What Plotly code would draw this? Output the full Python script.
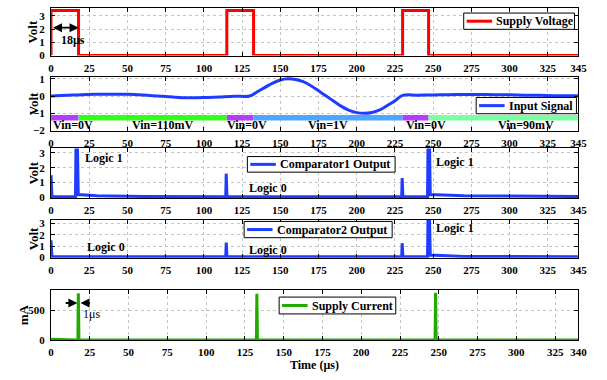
import plotly.graph_objects as go

# ---------------- data ----------------
supply_t = [0, 0, 18, 18, 115, 115, 132.5, 132.5, 230, 230, 247, 247, 345]
supply_v = [0, 3.4, 3.4, 0, 0, 3.4, 3.4, 0, 0, 3.4, 3.4, 0, 0]

input_t = [0, 10, 20, 30, 40, 50, 60, 70, 80, 90, 100, 110, 120, 130,
           135, 140, 145, 150, 155, 160, 165, 170, 175, 180, 185, 190, 195,
           200, 205, 210, 215, 220, 225, 230,
           240, 250, 260, 270, 280, 290, 300, 310, 320, 330, 345]
input_v = [0, 0.04, 0.08, 0.10, 0.11, 0.10, 0.06, 0.0, -0.06, -0.10, -0.09, -0.05, -0.01, 0.0,
           0.25, 0.5, 0.75, 0.93, 1.0, 0.96, 0.83, 0.6, 0.3, 0.0, -0.3, -0.6, -0.83,
           -0.96, -1.0, -0.95, -0.8, -0.55, -0.28, 0.04,
           0.05, 0.06, 0.08, 0.09, 0.09, 0.08, 0.07, 0.05, 0.04, 0.02, 0.01]

seg_start = [0, 18, 115, 132.5, 230, 247]
seg_end = [18, 115, 132.5, 230, 247, 345]
seg_color = ["#B43CFF", "#33FF1A", "#B43CFF", "#4DA6FF", "#B43CFF", "#7CFFA0"]
seg_label = ["Vin=0V", "Vin=110mV", "Vin=0V", "Vin=1V", "Vin=0V", "Vin=90mV"]
seg_label_x = [0, 73, 114, 181, 231, 311]
seg_label_anchor = ["left", "center", "left", "center", "left", "center"]

comp1_t = [0, 0.6, 16, 16.3, 17.3, 17.8, 30, 60, 114.3, 114.6, 115.1, 229.4, 229.7, 230.2,
           246.3, 246.6, 247.6, 248.1, 270, 300, 345]
comp1_v = [1.5, 0.05, 0.05, 3.4, 3.4, 0.2, 0.12, 0.07, 0.05, 1.6, 0.05, 0.05, 1.3, 0.05,
           0.05, 3.4, 3.4, 0.2, 0.12, 0.08, 0.06]

comp2_t = [0, 0.6, 114.3, 114.6, 115.1, 229.4, 229.7, 230.2, 246.3, 246.6, 247.6, 248.1, 270, 345]
comp2_v = [1.5, 0.05, 0.05, 1.3, 0.05, 0.05, 1.25, 0.05, 0.05, 3.4, 3.4, 0.2, 0.08, 0.06]

curr_t = [0, 5, 5.5, 17.3, 17.6, 18.0, 132.4, 132.7, 133.1, 247.6, 247.9, 248.3, 340]
curr_i = [12, 12, 0, 0, 785, 0, 0, 775, 0, 0, 790, 0, 0]

x_ticks_top = [0, 25, 50, 75, 100, 125, 150, 175, 200, 225, 250, 275, 300, 325, 345]
x_ticks_bot = [0, 25, 50, 75, 100, 125, 150, 175, 200, 225, 250, 275, 300, 325, 340]

series_names = ["Supply Voltage", "Input Signal", "Comparator1 Output", "Comparator2 Output", "Supply Current"]
series_colors = ["#FF0000", "#1E3CFF", "#1E3CFF", "#1E3CFF", "#22AA00"]

# ---------------- figure ----------------
FONT = "Liberation Serif"
W, H = 607, 380
xl, xr = 49 / W, 587 / W


def yd(top_px, bot_px):
    return [1 - bot_px / H, 1 - top_px / H]


domains = [yd(4.5, 53), yd(75, 130), yd(148.3, 199.3), yd(221.7, 260.7), yd(293.3, 345)]
yranges = [[0, 3.55], [-2, 1.1], [-0.04, 3.3], [-0.04, 3.3], [0, 845]]
yticks = [[0, 1, 2, 3], [-2, -1, 0, 1], [0, 1, 2, 3], [0, 1, 2, 3], [0, 500]]
ytitles = ["Volt", "Volt", "Volt", "Volt", "mA"]
ytitle_x = [31, 31, 31, 31, 21]

fig = go.Figure()
xs = [supply_t, input_t, comp1_t, comp2_t, curr_t]
ys = [supply_v, input_v, comp1_v, comp2_v, curr_i]
for i in range(5):
    k = "" if i == 0 else str(i + 1)
    fig.add_trace(go.Scatter(x=xs[i], y=ys[i], mode="lines", name=series_names[i],
                             line=dict(color=series_colors[i], width=3),
                             line_shape="spline" if i == 1 else "linear",
                             xaxis="x" + k, yaxis="y" + k, showlegend=False))

tickfont = dict(family=FONT, size=11, color="black", weight="bold")
layout = dict(width=W, height=H, margin=dict(l=0, r=0, t=0, b=0),
              paper_bgcolor="white", plot_bgcolor="white", showlegend=False)

for i in range(5):
    k = "" if i == 0 else str(i + 1)
    xt = x_ticks_bot if i == 4 else x_ticks_top
    xmax = 340 if i == 4 else 345
    layout["xaxis" + k] = dict(domain=[xl, xr], range=[0, xmax], anchor="y" + k,
                               tickvals=xt, ticktext=[str(v) for v in xt],
                               showline=True, linecolor="black", linewidth=1, mirror="ticks",
                               ticks="inside", ticklen=4, tickcolor="black",
                               showgrid=True, gridcolor="#C4C4C4", griddash="dot", gridwidth=1,
                               zeroline=False, tickfont=tickfont, ticklabelstandoff=2)
    layout["yaxis" + k] = dict(domain=domains[i], range=yranges[i], anchor="x" + k,
                               tickvals=yticks[i],
                               ticktext=[("\u2212" + str(-v)) if v < 0 else str(v) for v in yticks[i]],
                               showline=True, linecolor="black", linewidth=1, mirror="ticks",
                               ticks="inside", ticklen=4, tickcolor="black",
                               showgrid=True, gridcolor="#C4C4C4", griddash="dot", gridwidth=1,
                               zeroline=False, tickfont=tickfont, ticklabelstandoff=3)

fig.update_layout(**layout)

titlefont = dict(family=FONT, size=13, color="black", weight="bold")
for i in range(5):
    fig.add_annotation(x=ytitle_x[i] / W, y=sum(domains[i]) / 2, xref="paper", yref="paper",
                       text=ytitles[i], textangle=-90, showarrow=False,
                       xanchor="center", yanchor="middle", font=titlefont)
fig.add_annotation(x=318 / W, y=1 - 371 / H, xref="paper", yref="paper", text="Time (\u03bcs)",
                   showarrow=False, xanchor="center", yanchor="middle", borderpad=0,
                   font=dict(family=FONT, size=12, color="black", weight="bold"))

# legends (drawn as boxed entries)
legend_box = [(470, 9.3, 583, 26), (482.7, 96, 585, 112.7), (249.3, 156.7, 400, 172.7),
              (246, 223.3, 397, 240), (281.7, 301, 400.7, 318.3)]
legfont = dict(family=FONT, size=12, color="black", weight="bold")
for i, (x0, y0, x1, y1) in enumerate(legend_box):
    fig.add_shape(type="rect", xref="paper", yref="paper", x0=x0 / W, x1=x1 / W,
                  y0=1 - y1 / H, y1=1 - y0 / H, fillcolor="white",
                  line=dict(color="black", width=1), layer="above")
    ym = 1 - (y0 + y1) / 2 / H
    fig.add_shape(type="line", xref="paper", yref="paper", x0=(x0 + 3) / W, x1=(x0 + 29) / W,
                  y0=ym, y1=ym, line=dict(color=series_colors[i], width=3), layer="above")
    fig.add_annotation(x=(x0 + 31) / W, y=ym, xref="paper", yref="paper", text=series_names[i],
                       showarrow=False, xanchor="left", yanchor="middle", font=legfont)

# coloured Vin bars in panel 2
for s, e, c in zip(seg_start, seg_end, seg_color):
    fig.add_shape(type="rect", xref="x2", yref="y2", x0=s, x1=e, y0=-1.42, y1=-1.1,
                  fillcolor=c, line=dict(width=0), layer="above")

txtfont = dict(family=FONT, size=12, color="black", weight="bold")
for lbl, x, anc in zip(seg_label, seg_label_x, seg_label_anchor):
    fig.add_annotation(x=x, y=-1.68, xref="x2", yref="y2", text=lbl, showarrow=False,
                       xanchor=anc, yanchor="middle", font=txtfont)

# logic labels
logic = [("x3", "y3", 21, 2.63, "Logic 1"), ("x3", "y3", 128.5, 0.62, "Logic 0"),
         ("x3", "y3", 250.5, 2.4, "Logic 1"),
         ("x4", "y4", 22, 0.92, "Logic 0"), ("x4", "y4", 128.5, 0.62, "Logic 0"),
         ("x4", "y4", 250.5, 2.6, "Logic 1")]
for xr_, yr_, x, y, t in logic:
    fig.add_annotation(x=x, y=y, xref=xr_, yref=yr_, text=t, showarrow=False,
                       xanchor="left", yanchor="middle", font=txtfont)

# 18 us arrow
fig.add_annotation(x=18, y=2.1, ax=0.3, ay=2.1, xref="x", yref="y", axref="x", ayref="y",
                   text="", showarrow=True, arrowhead=2, startarrowhead=2, arrowside="end+start",
                   arrowsize=1, arrowwidth=1.8, arrowcolor="black")
fig.add_annotation(x=5, y=1.15, xref="x", yref="y", text="18\u03bcs", showarrow=False,
                   xanchor="left", yanchor="middle", font=txtfont)

# 1 us arrows
fig.add_annotation(x=17, y=620, ax=8.5, ay=620, xref="x5", yref="y5", axref="x5", ayref="y5",
                   text="", showarrow=True, arrowhead=2, arrowsize=1, arrowwidth=1.8, arrowcolor="black")
fig.add_annotation(x=19, y=620, ax=26, ay=620, xref="x5", yref="y5", axref="x5", ayref="y5",
                   text="", showarrow=True, arrowhead=2, arrowsize=1, arrowwidth=1.8, arrowcolor="black")
fig.add_annotation(x=19.5, y=440, xref="x5", yref="y5", text="1\u03bcs", showarrow=False,
                   xanchor="left", yanchor="middle", font=dict(family=FONT, size=12, color="black"))

fig.write_html("out.html")
